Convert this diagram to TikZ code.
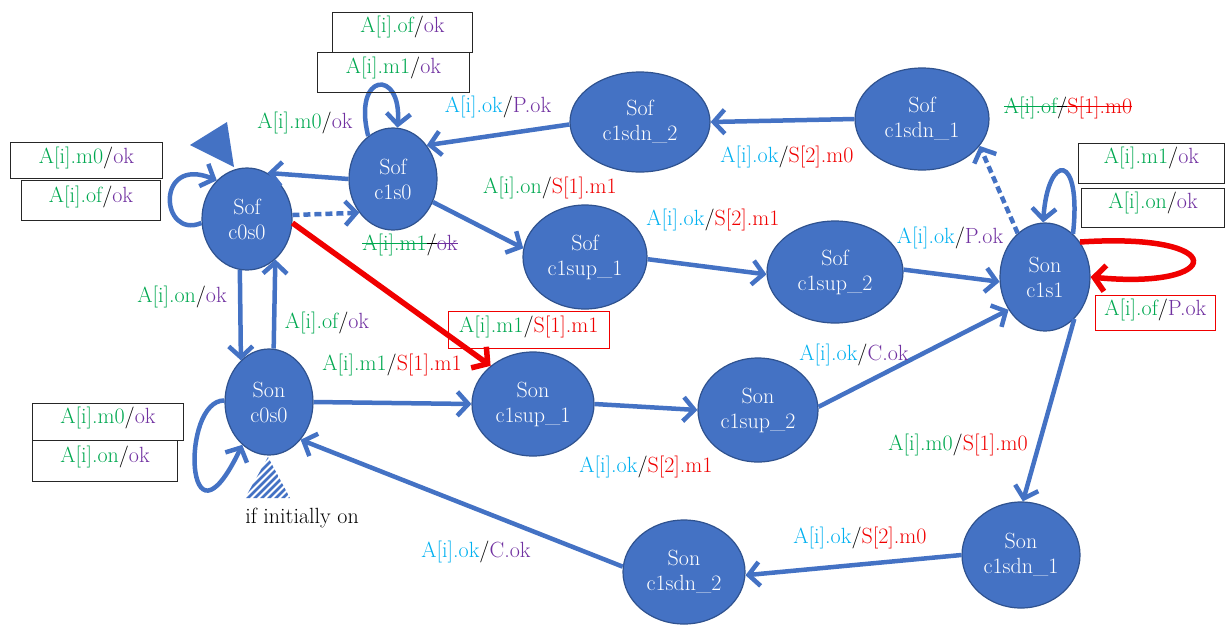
\documentclass[tikz,border=0pt]{standalone}
\usepackage{fontspec}
\usetikzlibrary{shapes.geometric,arrows.meta}

\definecolor{nodefill}{HTML}{4472C4}
\definecolor{nodeedge}{HTML}{2F528F}
\definecolor{edgeblue}{HTML}{4472C4}
\definecolor{lgreen}{HTML}{00A850}
\definecolor{lpurple}{HTML}{7030A0}
\definecolor{lcyan}{HTML}{00B0F0}
\definecolor{lred}{HTML}{F00000}

\newcommand\kG[1]{\textcolor{lgreen}{#1}}
\newcommand\kP[1]{\textcolor{lpurple}{#1}}
\newcommand\kC[1]{\textcolor{lcyan}{#1}}
\newcommand\kR[1]{\textcolor{lred}{#1}}
% struck-through text: a rule across the word in the current colour
\newsavebox\strkbox
\newcommand\strk[1]{\sbox\strkbox{#1}\rlap{\rule[0.27em]{\wd\strkbox}{1.3pt}}\usebox\strkbox}

\begin{document}
\begin{tikzpicture}[x=1pt,y=-1pt,
  state/.style={ellipse, draw=nodeedge, line width=1.2pt, fill=nodefill,
    text=white, align=center, inner sep=0pt, font=\fontsize{22}{25}\selectfont},
  lbl/.style={anchor=base, inner sep=0pt, font=\fontsize{22}{26}\selectfont},
  tbox/.style={draw=black!85, line width=1pt, anchor=north west, inner sep=0pt,
    font=\fontsize{22}{26}\selectfont},
  rbox/.style={tbox, draw=lred, line width=0.8pt},
  flow/.style={draw=edgeblue, line width=4.5pt,
    -{Straight Barb[length=11pt,width=24pt]}},
  flowdot/.style={flow, dash pattern=on 7pt off 4pt},
  redflow/.style={draw=lred, line width=5.5pt,
    -{Straight Barb[length=11pt,width=26pt]}}
]
\useasboundingbox (0,0) rectangle (1226,625);

% states
\node[state, minimum width=90pt,  minimum height=102pt] (c0)   at (247,219)  {Sof\\c0s0};
\node[state, minimum width=88pt,  minimum height=102pt] (s0)   at (393,179)  {Sof\\c1s0};
\node[state, minimum width=124pt, minimum height=104pt] (fup1) at (585,257)  {Sof\\c1sup\_1};
\node[state, minimum width=136pt, minimum height=102pt] (fup2) at (835,272)  {Sof\\c1sup\_2};
\node[state, minimum width=134pt, minimum height=102pt] (fdn1) at (922,119)  {Sof\\c1sdn\_1};
\node[state, minimum width=140pt, minimum height=100pt] (fdn2) at (640,122)  {Sof\\c1sdn\_2};
\node[state, minimum width=90pt,  minimum height=108pt] (s1)   at (1045,277) {Son\\c1s1};
\node[state, minimum width=88pt,  minimum height=106pt] (n0)   at (269,402)  {Son\\c0s0};
\node[state, minimum width=122pt, minimum height=104pt] (nup1) at (533,404)  {Son\\c1sup\_1};
\node[state, minimum width=120pt, minimum height=104pt] (nup2) at (758,410)  {Son\\c1sup\_2};
\node[state, minimum width=118pt, minimum height=106pt] (ndn1) at (1021,555) {Son\\c1sdn\_1};
\node[state, minimum width=122pt, minimum height=104pt] (ndn2) at (684,572)  {Son\\c1sdn\_2};

% initial markers: solid for Sof c0s0, hatched for Son c0s0
\fill[edgeblue] (190,145) -- (227,122) -- (234,167) -- cycle;
\begin{scope}
  \clip (245,498) -- (290,498) -- (268,457) -- cycle;
  \foreach \k in {0,...,11}
    \draw[edgeblue, line width=2.6pt] (213+7*\k,505) -- ++(60,-60);
\end{scope}
\node[lbl] (tinit) at (302,523) {if initially on};

% transitions
\draw[flow] (s0.180) -- (c0.66);
\draw[flowdot] (c0.5) -- (s0.225);
\draw[redflow] (c0.355) -- (nup1.138);
\draw[flow] (c0.262) -- (n0.124);
\draw[flow] (n0.85) -- (c0.305);
\draw[flow] (s0.330) -- (fup1.172);
\draw[flow] (fup1.358) -- (fup2.182);
\draw[flow] (fup2.2) -- (s1.186);
\draw[flowdot] (s1.122) -- (fdn1.335);
\draw[flow] (fdn1.180) -- (fdn2.0);
\draw[flow] (fdn2.182) -- (s0.45);
\draw[flow] (s1.305) -- (ndn1.88);
\draw[flow] (ndn1.180) -- (ndn2.357);
\draw[flow] (ndn2.175) -- (n0.310);
\draw[flow] (n0.0) -- (nup1.180);
\draw[flow] (nup1.0) -- (nup2.180);
\draw[flow] (nup2.3) -- (s1.222);

% self loops
\draw[flow] (c0.185) .. controls (160,240) and (155,155) .. (c0.128);
\draw[flow] (s0.120) .. controls (352,72) and (402,68) .. (s0.85);
\draw[flow] (s1.57) .. controls (1082,152) and (1048,152) .. (s1.92);
\draw[redflow] (s1.45) .. controls (1232,232) and (1225,290) .. (s1.0);
\draw[flow] (n0.178) .. controls (180,400) and (185,565) .. (n0.238);

% transition labels
\node[lbl] (l1)  at (305,128) {\kG{A[i].m0}/\kP{ok}};
\node[lbl] (l2)  at (410,250) {\kG{\strk{A[i].m1}}\strk{/}\kP{\strk{ok}}};
\node[lbl] (l3)  at (182,302) {\kG{A[i].on}/\kP{ok}};
\node[lbl] (l4)  at (327,328) {\kG{A[i].of}/\kP{ok}};
\node[lbl] (l5)  at (392,370) {\kG{A[i].m1}/\kR{S[1].m1}};
\node[lbl] (l6)  at (550,193) {\kG{A[i].on}/\kR{S[1].m1}};
\node[lbl] (l7)  at (498,112) {\kC{A[i].ok}/\kP{P.ok}};
\node[lbl] (l8)  at (787,162) {\kC{A[i].ok}/\kR{S[2].m0}};
\node[lbl] (l9)  at (713,225) {\kC{A[i].ok}/\kR{S[2].m1}};
\node[lbl] (l10) at (1068,113) {\kG{\strk{A[i].of}}\strk{/}\kR{\strk{S[1].m0}}};
\node[lbl] (l11) at (950,243) {\kC{A[i].ok}/\kP{P.ok}};
\node[lbl] (l12) at (854,360) {\kC{A[i].ok}/\kP{C.ok}};
\node[lbl] (l13) at (646,472) {\kC{A[i].ok}/\kR{S[2].m1}};
\node[lbl] (l14) at (958,450) {\kG{A[i].m0}/\kR{S[1].m0}};
\node[lbl] (l15) at (860,543) {\kC{A[i].ok}/\kR{S[2].m0}};
\node[lbl] (l16) at (476,557) {\kC{A[i].ok}/\kP{C.ok}};

% boxed loop labels
\node[tbox, minimum width=140pt, text height=20pt, text depth=20pt] (b1) at (332,12)  {\kG{A[i].of}/\kP{ok}};
\node[tbox, minimum width=152pt, text height=21pt, text depth=19pt] (b2) at (317,52)  {\kG{A[i].m1}/\kP{ok}};
\node[tbox, minimum width=152pt, text height=21pt, text depth=15pt] (b3) at (10,142)  {\kG{A[i].m0}/\kP{ok}};
\node[tbox, minimum width=139pt, text height=22pt, text depth=18pt] (b4) at (21,180)  {\kG{A[i].of}/\kP{ok}};
\node[tbox, minimum width=151pt, text height=20pt, text depth=17pt] (b5) at (32,403)  {\kG{A[i].m0}/\kP{ok}};
\node[tbox, minimum width=145pt, text height=22pt, text depth=19pt] (b6) at (32,440)  {\kG{A[i].on}/\kP{ok}};
\node[tbox, minimum width=146pt, text height=20pt, text depth=20pt] (b7) at (1078,143) {\kG{A[i].m1}/\kP{ok}};
\node[tbox, minimum width=143pt, text height=20pt, text depth=19pt] (b8) at (1081,188) {\kG{A[i].on}/\kP{ok}};
\node[rbox, minimum width=161pt, text height=21pt, text depth=16pt] (r1) at (448,311) {\kG{A[i].m1}/\kR{S[1].m1}};
\node[rbox, minimum width=120pt, text height=20pt, text depth=15pt] (r2) at (1095,295) {\kG{A[i].of}/\kP{P.ok}};
\end{tikzpicture}
\end{document}
